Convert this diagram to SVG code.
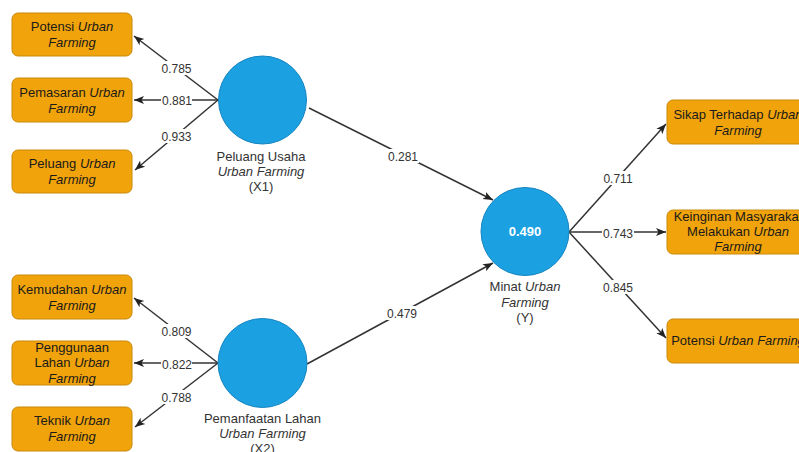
<svg xmlns="http://www.w3.org/2000/svg" width="799" height="452" viewBox="0 0 799 452">
<defs>
<style>
.box{fill:#F0A30A;stroke:#C98A0C;stroke-width:1}
.lv{fill:#1BA1E2;stroke:#1584C0;stroke-width:1}
.bt{font-family:"Liberation Sans",Arial,sans-serif;font-size:13px;fill:#1a1a1a;text-anchor:middle}
.ct{font-family:"Liberation Sans",Arial,sans-serif;font-size:13px;fill:#333;text-anchor:middle}
.it{font-style:italic}
.el{font-family:"Liberation Sans",Arial,sans-serif;font-size:12px;fill:#333;text-anchor:middle}
.lb{fill:#fff}
.ln{stroke:#333;stroke-width:1.5;fill:none;marker-end:url(#arr)}
</style>
<marker id="arr" markerUnits="userSpaceOnUse" markerWidth="11" markerHeight="9" refX="10" refY="4.5" orient="auto">
<path d="M0,0.5 L10,4.5 L0,8.5 L2.5,4.5 z" fill="#222"/>
</marker>
</defs>
<rect width="799" height="452" fill="#fff"/>

<g id="connectors">
<line class="ln" x1="218" y1="100" x2="134" y2="36"/>
<line class="ln" x1="218" y1="100" x2="134" y2="100"/>
<line class="ln" x1="218" y1="100" x2="135" y2="170"/>
<line class="ln" x1="218" y1="363" x2="134" y2="298"/>
<line class="ln" x1="218" y1="363" x2="134" y2="363"/>
<line class="ln" x1="218" y1="363" x2="135" y2="427"/>
<line class="ln" x1="309" y1="108" x2="493" y2="200"/>
<line class="ln" x1="307" y1="364" x2="493" y2="263"/>
<line class="ln" x1="569" y1="232" x2="666" y2="124"/>
<line class="ln" x1="569" y1="232" x2="666" y2="232"/>
<line class="ln" x1="569" y1="232" x2="666" y2="338"/>
<rect class="lb" x="161" y="61" width="31" height="14"/><text class="el" x="176.5" y="72.5">0.785</text>
<rect class="lb" x="161" y="93" width="31" height="14"/><text class="el" x="177" y="104.5">0.881</text>
<rect class="lb" x="161" y="129" width="31" height="14"/><text class="el" x="176.5" y="140.5">0.933</text>
<rect class="lb" x="161" y="324" width="31" height="14"/><text class="el" x="176.5" y="335.5">0.809</text>
<rect class="lb" x="161" y="357" width="31" height="14"/><text class="el" x="177" y="368.5">0.822</text>
<rect class="lb" x="161" y="390" width="31" height="14"/><text class="el" x="176.5" y="401.5">0.788</text>
<rect class="lb" x="387" y="149" width="32" height="14"/><text class="el" x="403" y="160.5">0.281</text>
<rect class="lb" x="386" y="306" width="32" height="14"/><text class="el" x="402" y="317.5">0.479</text>
<rect class="lb" x="602" y="171" width="32" height="14"/><text class="el" x="618" y="182.5">0.711</text>
<rect class="lb" x="602" y="226" width="32" height="14"/><text class="el" x="618" y="237.5">0.743</text>
<rect class="lb" x="602" y="280" width="32" height="14"/><text class="el" x="618" y="291.5">0.845</text>
</g>

<g id="ind1"><rect class="box" x="12" y="13" width="120" height="43" rx="6"/>
<text class="bt" x="72" y="31">Potensi <tspan class="it">Urban</tspan></text><text class="bt it" x="72" y="47">Farming</text></g>
<g id="ind2"><rect class="box" x="12" y="78" width="120" height="44" rx="6"/>
<text class="bt" x="72" y="97">Pemasaran <tspan class="it">Urban</tspan></text><text class="bt it" x="72" y="113">Farming</text></g>
<g id="ind3"><rect class="box" x="12" y="150" width="120" height="43" rx="6"/>
<text class="bt" x="72" y="167.5">Peluang <tspan class="it">Urban</tspan></text><text class="bt it" x="72" y="183.5">Farming</text></g>
<g id="ind4"><rect class="box" x="12" y="275" width="120" height="44" rx="6"/>
<text class="bt" x="72" y="293.5">Kemudahan <tspan class="it">Urban</tspan></text><text class="bt it" x="72" y="309.5">Farming</text></g>
<g id="ind5"><rect class="box" x="12" y="341" width="120" height="44" rx="6"/>
<text class="bt" x="72" y="352">Penggunaan</text><text class="bt" x="72" y="367">Lahan <tspan class="it">Urban</tspan></text><text class="bt it" x="72" y="382.5">Farming</text></g>
<g id="ind6"><rect class="box" x="12" y="407" width="120" height="44" rx="6"/>
<text class="bt" x="72" y="425">Teknik <tspan class="it">Urban</tspan></text><text class="bt it" x="72" y="441">Farming</text></g>

<g id="ind7"><rect class="box" x="667" y="100" width="142" height="44" rx="6"/>
<text class="bt" x="738" y="119">Sikap Terhadap <tspan class="it">Urban</tspan></text><text class="bt it" x="738" y="135">Farming</text></g>
<g id="ind8"><rect class="box" x="667" y="210" width="142" height="44" rx="6"/>
<text class="bt" x="738" y="221">Keinginan Masyarakat</text><text class="bt" x="738" y="236">Melakukan <tspan class="it">Urban</tspan></text><text class="bt it" x="738" y="251">Farming</text></g>
<g id="ind9"><rect class="box" x="667" y="319" width="142" height="44" rx="6"/>
<text class="bt" x="738" y="344.5">Potensi <tspan class="it">Urban Farming</tspan></text></g>

<g id="X1"><circle class="lv" cx="262.5" cy="100" r="44"/>
<text class="ct" x="261" y="161">Peluang Usaha</text><text class="ct it" x="261" y="176">Urban Farming</text><text class="ct" x="261" y="191">(X1)</text></g>
<g id="X2"><circle class="lv" cx="262.5" cy="363" r="44.5"/>
<text class="ct" x="262.5" y="423">Pemanfaatan Lahan</text><text class="ct it" x="262.5" y="438">Urban Farming</text><text class="ct" x="262.5" y="453">(X2)</text></g>
<g id="Y"><circle class="lv" cx="525" cy="231.5" r="44"/>
<text x="525" y="236" font-family="Liberation Sans, Arial, sans-serif" font-size="13" font-weight="bold" fill="#fff" text-anchor="middle">0.490</text>
<text class="ct" x="525" y="291">Minat <tspan class="it">Urban</tspan></text><text class="ct it" x="525" y="307">Farming</text><text class="ct" x="525" y="322">(Y)</text></g>
</svg>
